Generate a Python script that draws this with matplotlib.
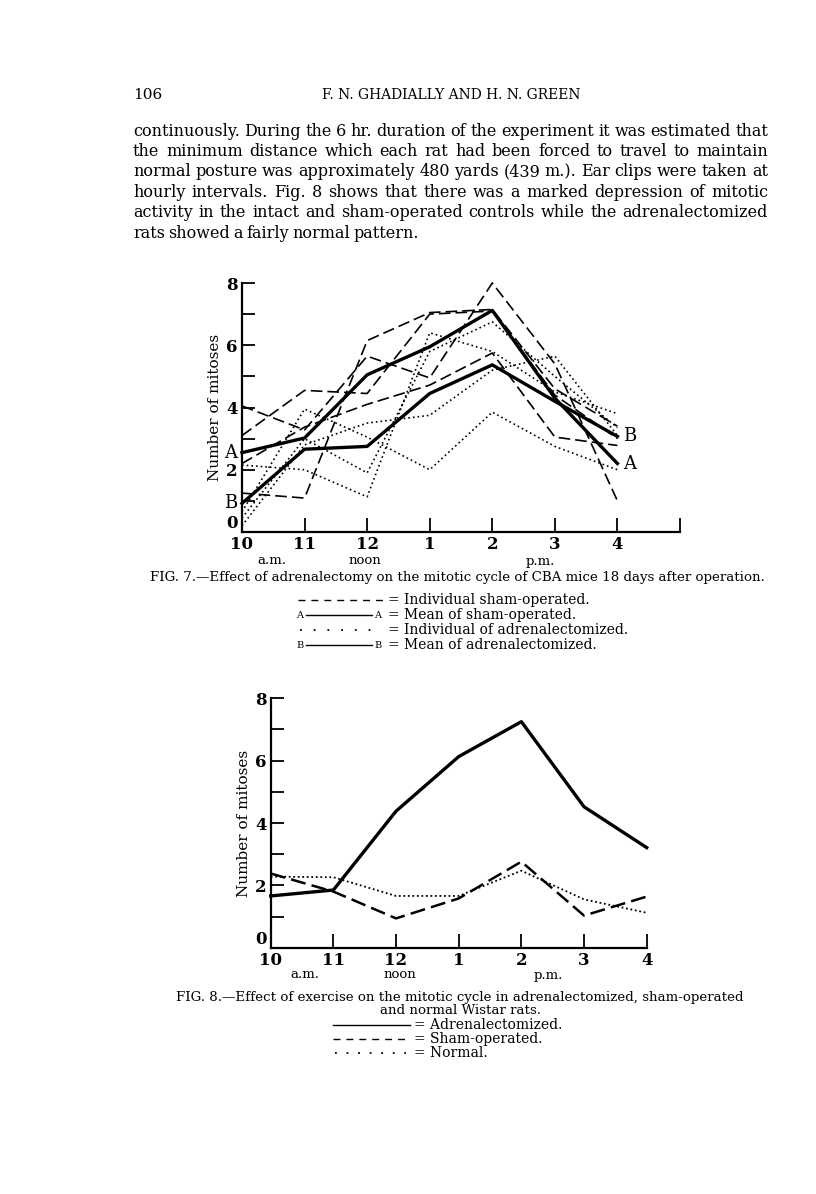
import matplotlib
matplotlib.use("Agg")
import matplotlib.pyplot as plt

W, H = 816, 1194
plt.rcParams['font.family'] = ['DejaVu Serif']

hour_labels = ['10', '11', '12', '1', '2', '3', '4']
hours = list(range(len(hour_labels)))

# Fig. 7 - CBA mice, individual sham-operated (dashed)
sham_1 = [4.05, 3.28, 5.65, 4.95, 8.0, 5.4, 1.0]
sham_2 = [3.1, 4.55, 4.45, 7.0, 7.1, 4.4, 3.0]
sham_3 = [2.2, 3.37, 4.1, 4.72, 5.75, 3.05, 2.78]
sham_4 = [1.25, 1.09, 6.15, 7.05, 7.15, 4.6, 3.4]
# individual adrenalectomized (dotted)
adx_1 = [2.15, 2.0, 1.13, 6.4, 5.8, 4.5, 3.8]
adx_2 = [0.65, 3.95, 3.05, 2.0, 3.85, 2.75, 2.0]
adx_3 = [0.2, 2.8, 3.5, 3.75, 5.2, 5.65, 3.1]
adx_4 = [0.45, 3.0, 1.9, 5.8, 6.75, 5.0, 3.35]
# means
sham_mean = [2.55, 3.02, 5.05, 5.95, 7.12, 4.3, 2.2]
adx_mean = [0.92, 2.66, 2.75, 4.45, 5.37, 4.2, 3.07]

# Fig. 8 - Wistar rats after exercise
ex_adx = [1.66, 1.85, 4.38, 6.13, 7.25, 4.52, 3.21]
ex_sham = [2.38, 1.80, 0.94, 1.58, 2.76, 1.03, 1.64]
ex_normal = [2.28, 2.26, 1.66, 1.66, 2.47, 1.55, 1.12]

body = [
    "continuously.  During the 6 hr. duration of the experiment it was estimated that",
    "the minimum distance which each rat had been forced to travel to maintain",
    "normal posture was approximately 480 yards (439 m.).  Ear clips were taken at",
    "hourly intervals.  Fig. 8 shows that there was a marked depression of mitotic",
    "activity in the intact and sham-operated controls while the adrenalectomized",
    "rats showed a fairly normal pattern.",
]

fig = plt.figure(figsize=(W / 100, H / 100), dpi=100)
page = fig.add_axes([0, 0, 1, 1])
page.set_xlim(0, W)
page.set_ylim(H, 0)
page.axis('off')
renderer = fig.canvas.get_renderer()


def justify(line, y, x0, x1, size, last=False):
    words = line.split()
    arts = [page.text(0, y, w, fontsize=size, va='center') for w in words]
    widths = [a.get_window_extent(renderer).width for a in arts]
    if last or len(words) < 2:
        gap = size * 0.3
    else:
        gap = (x1 - x0 - sum(widths)) / (len(words) - 1)
    x = x0
    for a, w in zip(arts, widths):
        a.set_x(x)
        x += w + gap


# header
page.text(133, 95, '106', fontsize=11, va='center')
page.text(451, 95, 'F. N. GHADIALLY AND H. N. GREEN', fontsize=10, va='center', ha='center')
for i, line in enumerate(body):
    justify(line, 131 + i * 20.4, 133, 768, 11.5, last=(i == len(body) - 1))


def px_axes(x0, y0, x1, y1):
    return fig.add_axes([x0 / W, 1 - y1 / H, (x1 - x0) / W, (y1 - y0) / H])


def style(ax, xmax):
    for s in ['top', 'right']:
        ax.spines[s].set_visible(False)
    for s in ['left', 'bottom']:
        ax.spines[s].set_linewidth(1.6)
    ax.set_xlim(0, xmax)
    ax.set_ylim(0, 8)
    ax.set_xticks(range(xmax + 1))
    ax.set_xticklabels((hour_labels + [''])[:xmax + 1], fontsize=12, fontweight='bold')
    ax.set_yticks(range(9))
    ax.set_yticklabels([str(v) if v % 2 == 0 else '' for v in range(9)],
                       fontsize=12, fontweight='bold')
    ax.get_yticklabels()[0].set_va('bottom')
    ax.tick_params(axis='x', direction='in', length=10, width=1.3, pad=3)
    ax.tick_params(axis='y', direction='in', length=9, width=1.3, pad=3)
    ax.set_ylabel('Number of mitoses', fontsize=11, labelpad=3)
    ax.patch.set_alpha(0)


# ---- Fig. 7 ----
ax7 = px_axes(242, 283, 680, 532)
style(ax7, 7)
for s in [sham_1, sham_2, sham_3, sham_4]:
    ax7.plot(hours, s, color='black', lw=1.2, dashes=(7, 3), clip_on=False)
for s in [adx_1, adx_2, adx_3, adx_4]:
    ax7.plot(hours, s, color='black', lw=1.2, dashes=(1, 1.8), clip_on=False)
ax7.plot(hours, sham_mean, color='black', lw=2.4, clip_on=False)
ax7.plot(hours, adx_mean, color='black', lw=2.4, clip_on=False)
for lab, s in [('A', sham_mean), ('B', adx_mean)]:
    ax7.annotate(lab, (hours[0], s[0]), xytext=(-8, 0), textcoords='offset points',
                 ha='center', va='center', fontsize=13)
    ax7.annotate(lab, (hours[-1], s[-1]), xytext=(9, 0), textcoords='offset points',
                 ha='center', va='center', fontsize=13)
page.text(272, 560, 'a.m.', fontsize=9.5, ha='center', va='center')
page.text(365, 560, 'noon', fontsize=9.5, ha='center', va='center')
page.text(540, 561, 'p.m.', fontsize=9.5, ha='center', va='center')

page.text(457, 578, 'FIG. 7.\u2014Effect of adrenalectomy on the mitotic cycle of CBA mice 18 days after operation.',
          fontsize=9.6, ha='center', va='center')
leg7 = [('dash', 'Individual sham-operated.'), ('A', 'Mean of sham-operated.'),
        ('dot', 'Individual of adrenalectomized.'), ('B', 'Mean of adrenalectomized.')]
for i, (kind, txt) in enumerate(leg7):
    y = 600 + i * 15
    if kind == 'dash':
        page.plot([298, 385], [y, y], color='black', lw=1, dashes=(5, 4.3))
    elif kind == 'dot':
        page.plot([300, 382], [y, y], color='black', lw=1.3, dashes=(1, 6.6))
    else:
        page.text(300, y, kind, fontsize=7, ha='center', va='center')
        page.plot([306, 372], [y, y], color='black', lw=1)
        page.text(378, y, kind, fontsize=7, ha='center', va='center')
    page.text(388, y, '= ' + txt, fontsize=10, va='center')

# ---- Fig. 8 ----
ax8 = px_axes(270.7, 698.3, 646.7, 947.7)
style(ax8, 6)
ax8.plot(hours, ex_adx, color='black', lw=2.4, clip_on=False)
ax8.plot(hours, ex_sham, color='black', lw=1.8, dashes=(6, 2.5), clip_on=False)
ax8.plot(hours, ex_normal, color='black', lw=1.3, dashes=(1, 1.5), clip_on=False)
page.text(305, 974, 'a.m.', fontsize=9.5, ha='center', va='center')
page.text(400, 974, 'noon', fontsize=9.5, ha='center', va='center')
page.text(548, 975, 'p.m.', fontsize=9.5, ha='center', va='center')

page.text(460, 997, 'FIG. 8.\u2014Effect of exercise on the mitotic cycle in adrenalectomized, sham-operated',
          fontsize=9.6, ha='center', va='center')
page.text(460, 1011, 'and normal Wistar rats.', fontsize=9.6, ha='center', va='center')
leg8 = [('solid', 'Adrenalectomized.'), ('dash', 'Sham-operated.'), ('dot', 'Normal.')]
for i, (kind, txt) in enumerate(leg8):
    y = 1025 + i * 14
    if kind == 'solid':
        page.plot([333, 410], [y, y], color='black', lw=1)
    elif kind == 'dash':
        page.plot([333, 410], [y, y], color='black', lw=1, dashes=(5, 4.3))
    else:
        page.plot([335, 406], [y, y], color='black', lw=1.3, dashes=(1, 5.4))
    page.text(414, y, '= ' + txt, fontsize=10, va='center')

fig.savefig('out.png', dpi=100)
